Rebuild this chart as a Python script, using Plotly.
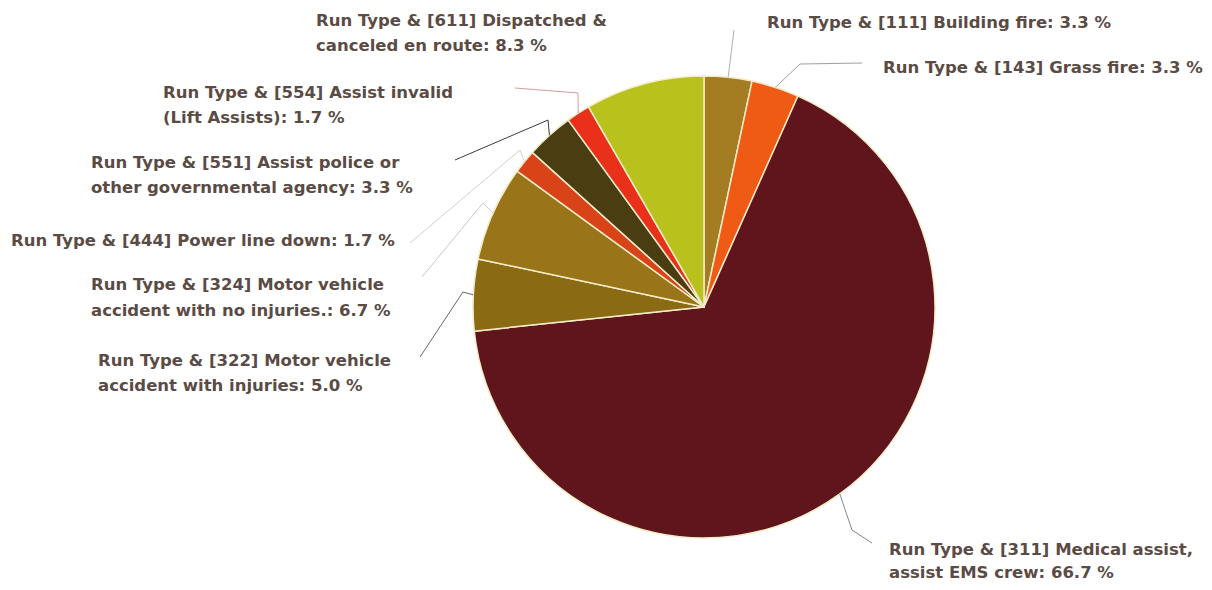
import math
import plotly.graph_objects as go

# ---- data ----
codes = ["111", "143", "311", "322", "324", "444", "551", "554", "611"]
names = [
    "Building fire",
    "Grass fire",
    "Medical assist, assist EMS crew",
    "Motor vehicle accident with injuries",
    "Motor vehicle accident with no injuries.",
    "Power line down",
    "Assist police or other governmental agency",
    "Assist invalid (Lift Assists)",
    "Dispatched & canceled en route",
]
counts = [2, 2, 40, 3, 4, 1, 2, 1, 5]
colors = ["#a47c22", "#ef5b14", "#5f151b", "#8a6a12", "#9a7418",
          "#d84418", "#4a3d12", "#e8301a", "#b9c11d"]

# ---- layout constants (page pixel coordinates) ----
PAGE_W, PAGE_H, BODY = 1212, 590, 8   # browser body margin
W, H = PAGE_W - 2 * BODY, PAGE_H - 2 * BODY
CX, CY, R = 704, 307, 231
break_before = [None, None, "assist EMS", "accident", "accident", None,
                "other", "(Lift", "canceled"]
label_pos = {  # left x, centre y of first line, line gap (page pixels)
    "111": (766, 22, 25), "143": (882, 67, 25), "311": (888, 549, 23),
    "322": (97, 360, 25), "324": (90, 285, 25), "444": (10, 240, 25),
    "551": (90, 162, 25), "554": (162, 92, 25), "611": (315, 20, 25),
}
leader = {  # elbow, end, colour
    "111": (None, (734, 30), "#b0b0b0"),
    "143": ((800, 64), (862, 63), "#a0a0a0"),
    "311": ((852, 530), (872, 543), "#888888"),
    "322": ((463, 292), (420, 357), "#666666"),
    "324": ((483, 203), (422, 277), "#c8c8c8"),
    "444": ((520, 150), (410, 243), "#d0d0d0"),
    "551": ((548, 120), (455, 160), "#3a3a3a"),
    "554": ((578, 93), (515, 88), "#d89a9a"),
}
TEXT_COLOR = "#5b4b45"
FONT = "DejaVu Sans"
FONT_SIZE = 16.5


def px(x):
    return (x - BODY) / W


def py(y):
    return 1 - (y - BODY) / H


total = sum(counts)

fig = go.Figure()
fig.add_trace(go.Pie(
    labels=[f"[{c}] {n}" for c, n in zip(codes, names)],
    values=counts,
    sort=False,
    direction="clockwise",
    rotation=0,
    textinfo="none",
    showlegend=False,
    marker=dict(colors=colors, line=dict(color="#f3ecc8", width=1.5)),
    domain=dict(x=[px(CX - R), px(CX + R)], y=[py(CY + R), py(CY - R)]),
))

annotations = []
shapes = []
cum = 0
for code, name, v, brk in zip(codes, names, counts, break_before):
    pct = 100 * v / total
    txt = f"Run Type & [{code}] {name}: {pct:.1f} %"
    lines = [txt]
    if brk:
        i = txt.index(" " + brk)
        lines = [txt[:i], txt[i + 1:]]
    lx, ly, gap = label_pos[code]
    for k, line in enumerate(lines):
        annotations.append(dict(
            x=px(lx), y=py(ly + k * gap), xref="paper", yref="paper",
            xanchor="left", yanchor="middle", align="left",
            text=line, showarrow=False, borderpad=0,
            font=dict(family=FONT, size=FONT_SIZE, color=TEXT_COLOR, weight="bold"),
        ))
    mid = 2 * math.pi * (cum + v / 2) / total
    cum += v
    if code in leader:
        elbow, end, col = leader[code]
        sx = CX + R * math.sin(mid)
        sy = CY - R * math.cos(mid)
        pts = [(sx, sy)] + ([elbow] if elbow else []) + [end]
        path = "M " + " L ".join(f"{px(x)},{py(y)}" for x, y in pts)
        shapes.append(dict(type="path", path=path, xref="paper", yref="paper",
                           line=dict(color=col, width=1)))

fig.update_layout(
    width=W, height=H,
    margin=dict(l=0, r=0, t=0, b=0),
    paper_bgcolor="white", plot_bgcolor="white",
    annotations=annotations, shapes=shapes,
)
fig.write_html("out.html")
